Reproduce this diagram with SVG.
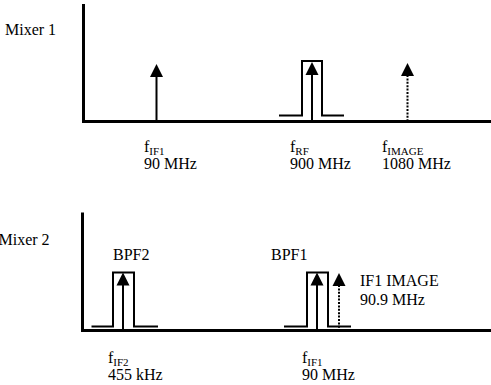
<svg xmlns="http://www.w3.org/2000/svg" width="491" height="385" viewBox="0 0 491 385">
<style>
text{font-family:"Liberation Serif","Times New Roman","DejaVu Serif","Noto Serif",serif;font-size:16px;fill:#000}
.sub{font-size:11px}
.axis{fill:none;stroke:#000;stroke-width:3}
.stem{fill:none;stroke:#000;stroke-width:2}
.dot{fill:none;stroke:#000;stroke-width:2;stroke-dasharray:2 1.4}
.filt{fill:none;stroke:#000;stroke-width:2}
.head{fill:#000}
</style>
<rect width="491" height="385" fill="#fff"/>
<g font-family="Liberation Serif, Times New Roman, DejaVu Serif, serif">
<g id="mixer1">
<text x="5" y="35">Mixer 1</text>
<path class="axis" d="M83.5,4 V121.5 H491"/>
</g>
<g id="mixer2">
<text x="-1.5" y="245">Mixer 2</text>
<path class="axis" d="M82.5,212.5 V330.5 H491"/>
</g>
<g id="filter-rf">
<path class="filt" d="M279,115.5 H302 V61 H322 V115.5 H344"/>
</g>
<g id="filter-bpf2">
<text x="113" y="260">BPF2</text>
<path class="filt" d="M91.5,326.5 H113 V272.5 H134 V326.5 H158"/>
</g>
<g id="filter-bpf1">
<text x="271" y="260">BPF1</text>
<path class="filt" d="M284,326.5 H307 V272.5 H328 V326.5 H351"/>
</g>
<g id="connectors">
<g id="arrow-fif1-top">
<path class="stem" d="M156.5,76 V121"/>
<path class="head" d="M156.5,64 L163,77 H150 Z"/>
</g>
<g id="arrow-frf">
<path class="stem" d="M312,74 V121"/>
<path class="head" d="M312,62 L318.5,75 H305.5 Z"/>
</g>
<g id="arrow-fimage">
<path class="dot" d="M407.5,75 V121"/>
<path class="head" d="M407.5,63 L414,76 H401 Z"/>
</g>
<g id="arrow-fif2">
<path class="stem" d="M123,284 V330"/>
<path class="head" d="M123,272.5 L129.5,285.5 H116.5 Z"/>
</g>
<g id="arrow-fif1-bottom">
<path class="stem" d="M317,284 V330"/>
<path class="head" d="M317,272.5 L323.5,285.5 H310.5 Z"/>
</g>
<g id="arrow-if1-image">
<path class="dot" d="M339,285 V330"/>
<path class="head" d="M339,273 L345.5,286 H332.5 Z"/>
</g>
</g>
<g id="labels">
<text x="144" y="152">f<tspan class="sub" dy="3">IF1</tspan></text>
<text x="144" y="169">90 MHz</text>
<text x="290" y="152">f<tspan class="sub" dy="3">RF</tspan></text>
<text x="290" y="169">900 MHz</text>
<text x="382" y="152">f<tspan class="sub" dy="3">IMAGE</tspan></text>
<text x="382" y="169">1080 MHz</text>
<text x="360" y="285.5">IF1 IMAGE</text>
<text x="360" y="305">90.9 MHz</text>
<text x="108" y="363">f<tspan class="sub" dy="3">IF2</tspan></text>
<text x="108" y="380">455 kHz</text>
<text x="302" y="363">f<tspan class="sub" dy="3">IF1</tspan></text>
<text x="302" y="380">90 MHz</text>
</g>
</g>
</svg>
